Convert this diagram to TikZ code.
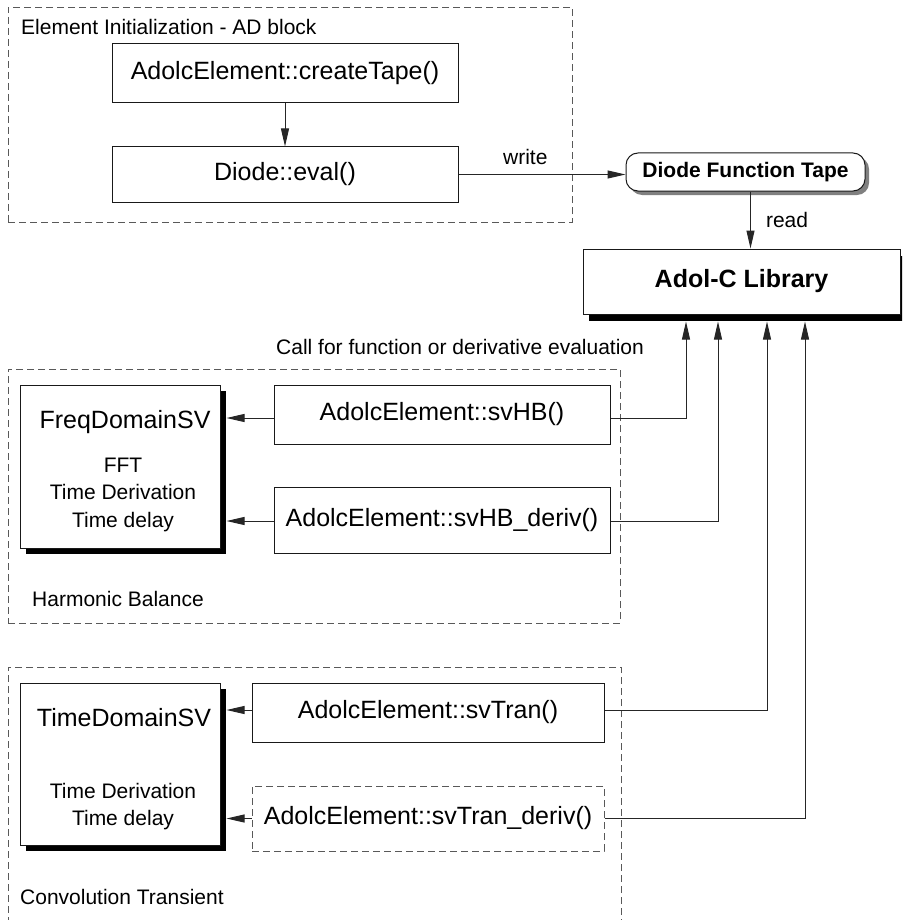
\documentclass[tikz,border=0pt]{standalone}
\usepackage{fontspec}
\setmainfont{Liberation Sans}
\usetikzlibrary{arrows.meta,shadows}
\begin{document}
\begin{tikzpicture}[x=1pt,y=-1pt,
  box/.style={draw=black!90, line width=1pt, fill=white, rectangle, inner sep=0pt, font=\fontsize{25}{30}\selectfont},
  dbox/.style={box, draw=black!65, dash pattern=on 7pt off 4pt},
  grp/.style={draw=black!65, line width=0.9pt, dash pattern=on 7pt off 4pt, rectangle, inner sep=0pt},
  lbl/.style={font=\fontsize{21}{25}\selectfont, inner sep=0pt},
  big/.style={font=\fontsize{25}{30}\selectfont, inner sep=0pt},
  conn/.style={draw=black!85, line width=1pt},
  arr/.style={conn, -{Triangle[length=18pt,width=8pt]}},
  blackshadow/.style={drop shadow={shadow xshift=6pt, shadow yshift=-6pt, fill=black, opacity=1}},
]
\useasboundingbox (0,0) rectangle (902,920);
\clip (0,0) rectangle (902,920);

% groups
\node[grp, minimum width=564pt, minimum height=215pt] (ginit) at (290,114.5) {};
\node[grp, minimum width=612pt, minimum height=254pt] (gharm) at (314,496) {};
\node[grp, minimum width=613pt, minimum height=273pt] (gconv) at (314.5,803.5) {};

% group labels
\node[lbl, anchor=west] (tinit) at (21,27) {Element Initialization - AD block};
\node[lbl, anchor=west] (tharm) at (32,599) {Harmonic Balance};
\node[lbl, anchor=west] (tconv) at (20,897) {Convolution Transient};
\node[lbl, anchor=west] (tcall) at (276,347) {Call for function or derivative evaluation};

% top block
\node[box, minimum width=346pt, minimum height=59pt] (ctape) at (285,73.5) {AdolcElement::createTape()};
\node[box, minimum width=346pt, minimum height=55pt] (eval) at (285,174.5) {Diode::eval()};

% tape and library
\node[box, rounded corners=12pt, minimum width=239pt, minimum height=38pt,
      font=\fontsize{21}{25}\selectfont\bfseries,
      drop shadow={shadow xshift=4pt, shadow yshift=-4pt, fill=black!50, opacity=1}] (tape) at (745.5,172) {Diode Function Tape};
\node[box, minimum width=317pt, minimum height=65pt, font=\fontsize{25}{30}\selectfont\bfseries,
      drop shadow={shadow xshift=6pt, shadow yshift=-7pt, fill=black, opacity=1}] (adolc) at (741.5,281.5) {Adol-C Library};

% harmonic balance
\node[box, minimum width=200pt, minimum height=163pt, blackshadow] (freq) at (120,466.5) {};
\node[big] (freqt) at (125,422) {FreqDomainSV};
\node[lbl, align=center, font=\fontsize{21}{27.5}\selectfont] (freql) at (123,494.5) {FFT\\Time Derivation\\Time delay};
\node[box, minimum width=336pt, minimum height=59pt] (svhb) at (442,414.5) {AdolcElement::svHB()};
\node[box, minimum width=336pt, minimum height=66pt] (svhbd) at (442,520) {AdolcElement::svHB\_deriv()};

% convolution transient
\node[box, minimum width=200pt, minimum height=162pt, blackshadow] (time) at (120,764) {};
\node[big] (timet) at (124,718) {TimeDomainSV};
\node[lbl, align=center, font=\fontsize{21}{27}\selectfont] (timel) at (123,806.5) {Time Derivation\\Time delay};
\node[box, minimum width=352pt, minimum height=59pt] (svtran) at (428,712.5) {AdolcElement::svTran()};
\node[dbox, minimum width=352pt, minimum height=65pt] (svtrand) at (428,818.5) {AdolcElement::svTran\_deriv()};

% connectors
\draw[arr] (ctape.south) -- (eval.north);
\draw[arr] (eval.east) -- (eval.east -| tape.west) node[lbl, pos=0.4, above=9pt] (twrite) {write};
\draw[arr] ([xshift=5pt]tape.south) -- ([xshift=5pt]tape.south |- adolc.north) node[lbl, midway, right=15pt] (tread) {read};

\draw[arr] ([yshift=-3.5pt]svhb.east) -| ([xshift=-55.5pt,yshift=-7pt]adolc.south);
\draw[arr] ([yshift=-1pt]svhbd.east) -| ([xshift=-23.5pt,yshift=-7pt]adolc.south);
\draw[arr] ([yshift=2.5pt]svtran.east) -| ([xshift=25.5pt,yshift=-7pt]adolc.south);
\draw[arr] (svtrand.east) -| ([xshift=63.5pt,yshift=-7pt]adolc.south);

\draw[arr] ([yshift=-3.5pt]svhb.west) -- ([xshift=6pt,yshift=-3.5pt]freq.east |- svhb.west);
\draw[arr] ([yshift=-1pt]svhbd.west) -- ([xshift=6pt,yshift=-1pt]freq.east |- svhbd.west);
\draw[arr] ([yshift=2.5pt]svtran.west) -- ([xshift=6pt,yshift=2.5pt]time.east |- svtran.west);
\draw[arr] (svtrand.west) -- ([xshift=6pt]time.east |- svtrand.west);
\end{tikzpicture}
\end{document}
